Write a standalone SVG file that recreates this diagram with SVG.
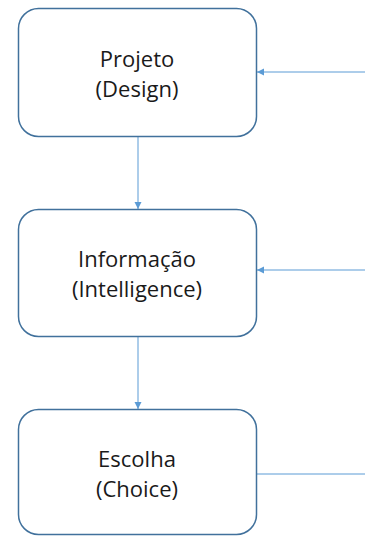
<svg xmlns="http://www.w3.org/2000/svg" width="365" height="536" viewBox="0 0 365 536">
<style>
.box{fill:#fff;stroke:#41719c;stroke-width:1.5}
.lbl{font-family:"Open Sans","Liberation Sans",sans-serif;font-size:22px;fill:#1a1a1a;text-anchor:middle}
.conn{stroke:#5b9bd5;stroke-width:1;fill:none}
</style>
<defs>
<marker id="ah" markerWidth="8" markerHeight="8" refX="7" refY="4" orient="auto" markerUnits="userSpaceOnUse">
<path d="M0,0.5 L7,4 L0,7.5 Z" fill="#5b9bd5"/>
</marker>
</defs>
<rect width="365" height="536" fill="#fff"/>
<g id="connectors">
<line class="conn" x1="138" y1="137" x2="138" y2="209" marker-end="url(#ah)"/>
<line class="conn" x1="138" y1="337" x2="138" y2="409" marker-end="url(#ah)"/>
<line class="conn" x1="365" y1="72" x2="257" y2="72" marker-end="url(#ah)"/>
<line class="conn" x1="365" y1="270" x2="257" y2="270" marker-end="url(#ah)"/>
<line class="conn" x1="257" y1="474" x2="365" y2="474"/>
</g>
<g id="projeto">
<rect class="box" x="18.5" y="8.5" width="238" height="128" rx="20"/>
<text class="lbl" x="137" y="67">Projeto</text>
<text class="lbl" x="137" y="97">(Design)</text>
</g>
<g id="informacao">
<rect class="box" x="18.5" y="209.5" width="238" height="127" rx="20"/>
<text class="lbl" x="137" y="267">Informação</text>
<text class="lbl" x="137" y="297">(Intelligence)</text>
</g>
<g id="escolha">
<rect class="box" x="18.5" y="409.5" width="238" height="125" rx="20"/>
<text class="lbl" x="137" y="467">Escolha</text>
<text class="lbl" x="137" y="497">(Choice)</text>
</g>
</svg>
